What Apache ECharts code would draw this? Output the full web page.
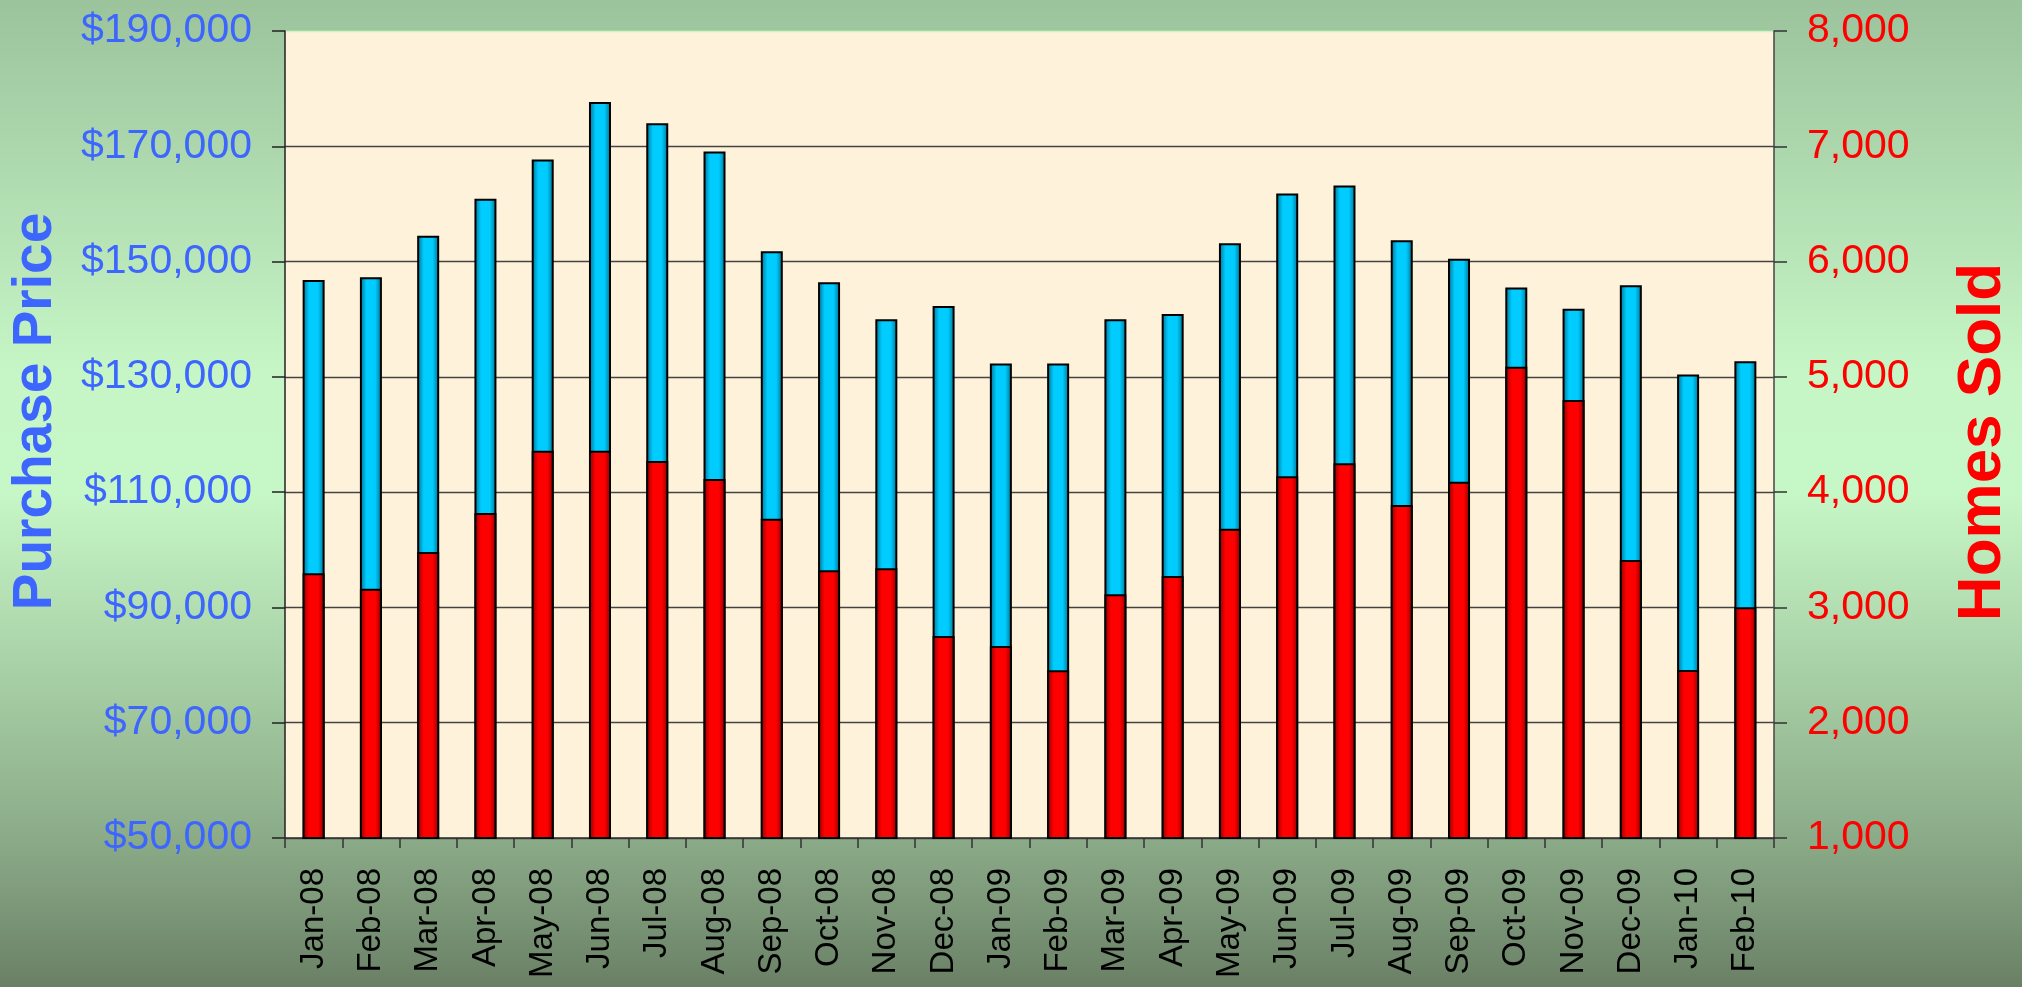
<!DOCTYPE html>
<html>
<head>
<meta charset="utf-8">
<script src="https://cdn.jsdelivr.net/npm/echarts@6/dist/echarts.min.js"></script>
<style>
html,body{margin:0;padding:0;width:2022px;height:987px;overflow:hidden;}
#c{width:2022px;height:987px;}
</style>
</head>
<body>
<div id="c"></div>
<script>
var categories = ['Jan-08','Feb-08','Mar-08','Apr-08','May-08','Jun-08','Jul-08','Aug-08','Sep-08','Oct-08','Nov-08','Dec-08','Jan-09','Feb-09','Mar-09','Apr-09','May-09','Jun-09','Jul-09','Aug-09','Sep-09','Oct-09','Nov-09','Dec-09','Jan-10','Feb-10'];
var purchasePrice = [146800,147300,154500,160900,167700,177700,174000,169100,151800,146400,140000,142300,132300,132300,140000,140900,153200,161800,163200,153700,150500,145500,141800,145900,130400,132700];
var homesSold = [3296,3163,3481,3819,4360,4360,4270,4114,3770,3322,3339,2752,2665,2455,3114,3273,3683,4137,4250,3888,4091,5088,4799,3411,2458,3001];
var priceAxis = {min: 50000, max: 190000, interval: 20000};
var soldAxis = {min: 1000, max: 8000, interval: 1000};

var chart = echarts.init(document.getElementById('c'));
var FONT = '"Liberation Sans", Arial, sans-serif';
function fmtMoney(v){ return '$' + v.toString().replace(/\B(?=(\d{3})+(?!\d))/g, ','); }
function fmtNum(v){ return v.toString().replace(/\B(?=(\d{3})+(?!\d))/g, ','); }

chart.setOption({
  backgroundColor: new echarts.graphic.LinearGradient(0,0,0,1,[
    {offset:0, color:'#9BC39C'},
    {offset:0.38, color:'#C6F6C6'},
    {offset:0.5, color:'#C6F7C6'},
    {offset:0.85, color:'#8BAB88'},
    {offset:1, color:'#6A8066'}
  ]),
  animation: false,
  grid: {left: 279, right: 231, top: 31, bottom: 149, show: true, backgroundColor: '#FFF2DA', borderWidth: 0},
  xAxis: {
    type: 'category',
    data: categories,
    axisLine: {show: true, lineStyle: {color: '#333', width: 1.5}},
    axisTick: {show: true, length: 10, alignWithLabel: false, lineStyle: {color: '#333', width: 1.5}},
    axisLabel: {rotate: 90, margin: 30, color: '#000', fontFamily: FONT, fontSize: 33, interval: 0}
  },
  yAxis: [
    {
      type: 'value', position: 'left',
      min: priceAxis.min, max: priceAxis.max, interval: priceAxis.interval,
      name: 'Purchase Price', nameLocation: 'middle', nameRotate: 90, nameGap: 222,
      nameTextStyle: {color: '#3D66FF', fontFamily: FONT, fontWeight: 'bold', fontSize: 55, padding: [0,0,0,46]},
      axisLine: {show: true, lineStyle: {color: '#222', width: 1.5}},
      axisTick: {show: true, length: 13, lineStyle: {color: '#222', width: 1.5}},
      axisLabel: {margin: 33, color: '#3D66FF', fontFamily: FONT, fontSize: 41, formatter: fmtMoney},
      splitLine: {show: true, lineStyle: {color: ['#444','#444','#444','#444','#444','#444','#444','#C8F5C0'], width: 1.3}}
    },
    {
      type: 'value', position: 'right',
      min: soldAxis.min, max: soldAxis.max, interval: soldAxis.interval,
      name: 'Homes Sold', nameLocation: 'middle', nameRotate: 90, nameGap: 178,
      nameTextStyle: {color: '#FF0000', fontFamily: FONT, fontWeight: 'bold', fontSize: 62, padding: [0,15,0,0]},
      axisLine: {show: true, lineStyle: {color: '#444', width: 1.5}},
      axisTick: {show: true, length: 13, lineStyle: {color: '#333', width: 1.5}},
      axisLabel: {margin: 33, color: '#FF0000', fontFamily: FONT, fontSize: 41, formatter: fmtNum},
      splitLine: {show: false}
    }
  ],
  series: [
    {
      name: 'Purchase Price', type: 'bar', yAxisIndex: 0, data: purchasePrice,
      barWidth: 22, barGap: '-100%',
      itemStyle: {
        borderColor: '#000', borderWidth: 2,
        color: new echarts.graphic.LinearGradient(0,0,1,0,[
          {offset:0, color:'#006E8C'},
          {offset:0.3, color:'#00CCFF'},
          {offset:0.7, color:'#00CCFF'},
          {offset:1, color:'#006E8C'}
        ])
      }
    },
    {
      name: 'Homes Sold', type: 'bar', yAxisIndex: 1, data: homesSold,
      barWidth: 22, barGap: '-100%',
      itemStyle: {
        borderColor: '#000', borderWidth: 2,
        color: new echarts.graphic.LinearGradient(0,0,1,0,[
          {offset:0, color:'#8C0000'},
          {offset:0.3, color:'#FF0000'},
          {offset:0.7, color:'#FF0000'},
          {offset:1, color:'#8C0000'}
        ])
      }
    }
  ]
});
</script>
</body>
</html>
